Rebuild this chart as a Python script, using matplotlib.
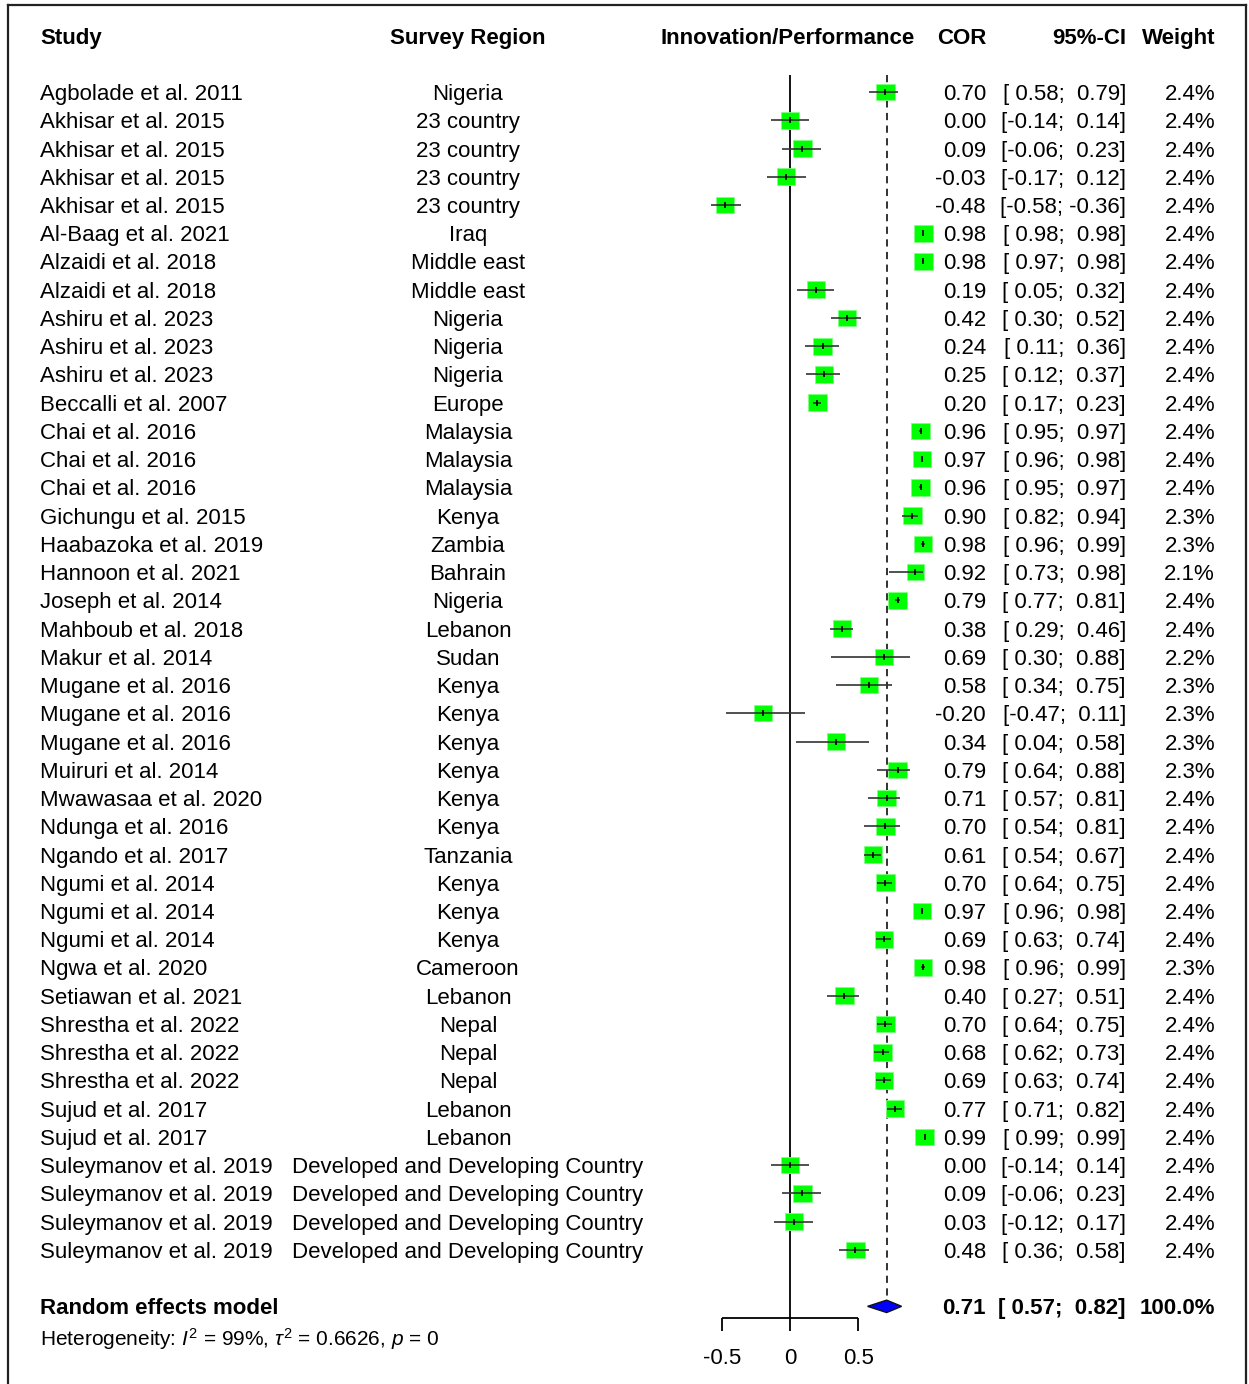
import numpy as np
import matplotlib.pyplot as plt
from matplotlib.lines import Line2D
from matplotlib.patches import Polygon, Rectangle
import matplotlib.transforms as mtransforms

plt.rcParams['font.family'] = ['Liberation Sans', 'DejaVu Sans']
plt.rcParams['mathtext.fontset'] = 'custom'
plt.rcParams['mathtext.rm'] = 'Liberation Sans'
plt.rcParams['mathtext.it'] = 'Liberation Sans:italic'

# Daten aus der Abbildung
studies = ["Agbolade et al. 2011", "Akhisar et al. 2015", "Akhisar et al. 2015", "Akhisar et al. 2015",
           "Akhisar et al. 2015", "Al-Baag et al. 2021", "Alzaidi et al. 2018", "Alzaidi et al. 2018",
           "Ashiru et al. 2023", "Ashiru et al. 2023", "Ashiru et al. 2023", "Beccalli et al. 2007",
           "Chai et al. 2016", "Chai et al. 2016", "Chai et al. 2016", "Gichungu et al. 2015",
           "Haabazoka et al. 2019", "Hannoon et al. 2021", "Joseph et al. 2014", "Mahboub et al. 2018",
           "Makur et al. 2014", "Mugane et al. 2016", "Mugane et al. 2016", "Mugane et al. 2016",
           "Muiruri et al. 2014", "Mwawasaa et al. 2020", "Ndunga et al. 2016", "Ngando et al. 2017",
           "Ngumi et al. 2014", "Ngumi et al. 2014", "Ngumi et al. 2014", "Ngwa et al. 2020",
           "Setiawan et al. 2021", "Shrestha et al. 2022", "Shrestha et al. 2022", "Shrestha et al. 2022",
           "Sujud et al. 2017", "Sujud et al. 2017", "Suleymanov et al. 2019", "Suleymanov et al. 2019",
           "Suleymanov et al. 2019", "Suleymanov et al. 2019"]
regions = ["Nigeria", "23 country", "23 country", "23 country", "23 country", "Iraq", "Middle east",
           "Middle east", "Nigeria", "Nigeria", "Nigeria", "Europe", "Malaysia", "Malaysia", "Malaysia",
           "Kenya", "Zambia", "Bahrain", "Nigeria", "Lebanon", "Sudan", "Kenya", "Kenya", "Kenya",
           "Kenya", "Kenya", "Kenya", "Tanzania", "Kenya", "Kenya", "Kenya", "Cameroon", "Lebanon",
           "Nepal", "Nepal", "Nepal", "Lebanon", "Lebanon"] + ["Developed and Developing Country"] * 4
cor = [0.70, 0.00, 0.09, -0.03, -0.48, 0.98, 0.98, 0.19, 0.42, 0.24, 0.25, 0.20, 0.96, 0.97, 0.96,
       0.90, 0.98, 0.92, 0.79, 0.38, 0.69, 0.58, -0.20, 0.34, 0.79, 0.71, 0.70, 0.61, 0.70, 0.97,
       0.69, 0.98, 0.40, 0.70, 0.68, 0.69, 0.77, 0.99, 0.00, 0.09, 0.03, 0.48]
lower = [0.58, -0.14, -0.06, -0.17, -0.58, 0.98, 0.97, 0.05, 0.30, 0.11, 0.12, 0.17, 0.95, 0.96, 0.95,
         0.82, 0.96, 0.73, 0.77, 0.29, 0.30, 0.34, -0.47, 0.04, 0.64, 0.57, 0.54, 0.54, 0.64, 0.96,
         0.63, 0.96, 0.27, 0.64, 0.62, 0.63, 0.71, 0.99, -0.14, -0.06, -0.12, 0.36]
upper = [0.79, 0.14, 0.23, 0.12, -0.36, 0.98, 0.98, 0.32, 0.52, 0.36, 0.37, 0.23, 0.97, 0.98, 0.97,
         0.94, 0.99, 0.98, 0.81, 0.46, 0.88, 0.75, 0.11, 0.58, 0.88, 0.81, 0.81, 0.67, 0.75, 0.98,
         0.74, 0.99, 0.51, 0.75, 0.73, 0.74, 0.82, 0.99, 0.14, 0.23, 0.17, 0.58]
weight = [2.4, 2.4, 2.4, 2.4, 2.4, 2.4, 2.4, 2.4, 2.4, 2.4, 2.4, 2.4, 2.4, 2.4, 2.4, 2.3, 2.3, 2.1,
          2.4, 2.4, 2.2, 2.3, 2.3, 2.3, 2.3, 2.4, 2.4, 2.4, 2.4, 2.4, 2.4, 2.3, 2.4, 2.4, 2.4, 2.4,
          2.4, 2.4, 2.4, 2.4, 2.4, 2.4]
re_est, re_lo, re_hi = 0.71, 0.57, 0.82
xticks = [-0.5, 0, 0.5]

W, H = 1249, 1384
fig = plt.figure(figsize=(W / 100, H / 100), dpi=100)
fig.patch.set_facecolor("white")

# Achse fuer den Forest-Teil (0 liegt bei ca. 790 px)
ax = fig.add_axes([650 / W, 0, 300 / W, 1])
ax.set_xlim(-1.03, 1.176)
ax.set_ylim(45.75, -3.26)
ax.axis("off")

n = len(cor)
rows = np.arange(n)
re_row = n + 1
fs = 16

# Nulllinie und gestrichelte Linie beim Gesamteffekt
ax.vlines(0, -0.6, 43.41, color="black", lw=1.3)
ax.vlines(re_est, -0.6, 42.67, color="#222222", lw=1.3, linestyles=(0, (4, 3)))

# Boxen (Flaeche ~ Gewicht), KI-Linien und Punktmarken
bw, bh = 0.136, 0.59  # Boxgroesse bei 2.4 % in Dateneinheiten
for i in range(n):
    k = np.sqrt(weight[i] / 2.4)
    ax.add_patch(Rectangle((cor[i] - bw * k / 2, i - bh * k / 2), bw * k, bh * k,
                           facecolor="#00ff00", edgecolor="#80ff80", lw=0.6, zorder=2))
ax.hlines(rows, lower, upper, color="#333333", lw=1.2, zorder=3)
ax.scatter(cor, rows, s=22, marker="|", color="black", linewidths=1.2, zorder=4)

# Raute fuer das Random-Effects-Modell
h = 0.22
diamond = Polygon([[re_lo, re_row], [re_est, re_row - h], [re_hi, re_row], [re_est, re_row + h]],
                  closed=True, facecolor="#0000ff", edgecolor="#111111", lw=1.0, zorder=3)
ax.add_patch(diamond)

# x-Achse unten
ax.hlines(43.41, xticks[0], xticks[-1], color="black", lw=1.3)
for t in xticks:
    ax.vlines(t, 43.41, 43.87, color="black", lw=1.3)
    ax.text(t, 44.76, f"{t:g}", ha="center", va="center_baseline", fontsize=fs)

# Textspalten
tr = mtransforms.blended_transform_factory(fig.transFigure, ax.transData)
def col(xpx, y, s, ha, **kw):
    ax.text(xpx / W, y, s, transform=tr, ha=ha, va="center_baseline", fontsize=fs, clip_on=False, **kw)

hy = -1.98
col(40, hy, "Study", "left", fontweight="bold")
col(468, hy, "Survey Region", "center", fontweight="bold")
col(788, hy, "Innovation/Performance", "center", fontweight="bold")
col(986, hy, "COR", "right", fontweight="bold")
col(1126, hy, "95%-CI", "right", fontweight="bold")
col(1215, hy, "Weight", "right", fontweight="bold")

for i in range(n):
    col(40, i, studies[i], "left")
    col(468, i, regions[i], "center")
    col(986, i, f"{cor[i]:.2f}", "right")
    col(1126, i, f"[{lower[i]:5.2f}; {upper[i]:5.2f}]", "right")
    col(1215, i, f"{weight[i]:.1f}%", "right")

col(40, re_row, "Random effects model", "left", fontweight="bold")
col(986, re_row, f"{re_est:.2f}", "right", fontweight="bold")
col(1126, re_row, f"[{re_lo:5.2f}; {re_hi:5.2f}]", "right", fontweight="bold")
col(1215, re_row, "100.0%", "right", fontweight="bold")
ax.text(40 / W, 44.05, r"Heterogeneity: $I^2$ = 99%, $\tau^2$ = 0.6626, $p$ = 0", transform=tr,
        ha="left", va="center_baseline", fontsize=15, clip_on=False)

# Rahmen links, oben, rechts
fc = "#222222"
fig.add_artist(Line2D([8 / W, 8 / W], [0, 1 - 5 / H], color=fc, lw=1.6, transform=fig.transFigure))
fig.add_artist(Line2D([8 / W, 1246 / W], [1 - 5 / H, 1 - 5 / H], color=fc, lw=1.6, transform=fig.transFigure))
fig.add_artist(Line2D([1246 / W, 1246 / W], [0, 1 - 5 / H], color=fc, lw=1.6, transform=fig.transFigure))

fig.savefig("out.png", dpi=100, facecolor="white")
